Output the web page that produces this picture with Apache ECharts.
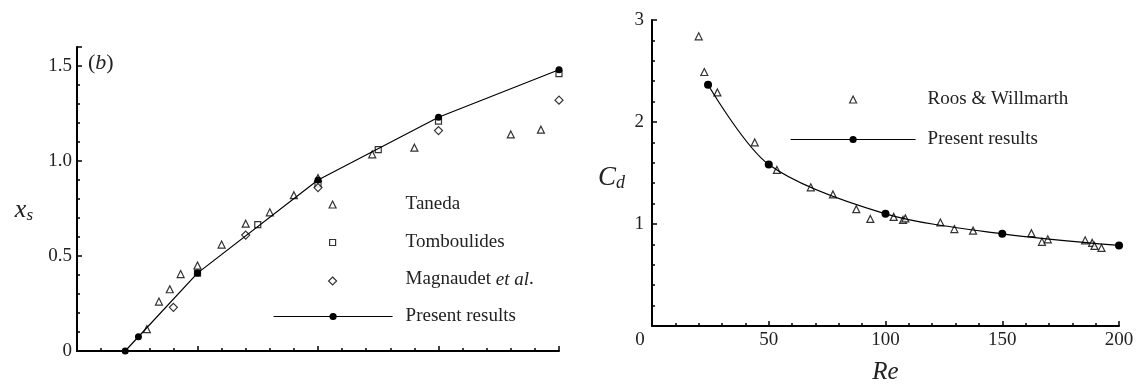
<!DOCTYPE html>
<html>
<head>
<meta charset="utf-8">
<script src="https://cdn.jsdelivr.net/npm/echarts@6/dist/echarts.min.js"></script>
<style>
html, body { margin: 0; padding: 0; background: #fff; }
#chart { width: 1145px; height: 390px; }
</style>
</head>
<body>
<div id="chart"></div>
<script>
/*
 * (b) x_s vs Re  /  C_d vs Re
 */

// left panel : separation length x_s
var tanedaData = [[29, 0.115], [34, 0.26], [38.5, 0.325], [43, 0.405], [50, 0.45], [60, 0.56],
	[70, 0.67], [80, 0.73], [90, 0.82], [100, 0.91], [122.5, 1.035], [140, 1.07], [180, 1.14], [192.5, 1.165]];
var tomboulidesData = [[50, 0.41], [75, 0.665], [100, 0.88], [125, 1.06], [150, 1.21], [200, 1.46]];
var magnaudetData = [[40, 0.23], [70, 0.61], [100, 0.86], [150, 1.16], [200, 1.32]];
var presentXsData = [[20, 0], [25.5, 0.075], [50, 0.41], [100, 0.9], [150, 1.23], [200, 1.48]];

// right panel : drag coefficient C_d
var roosData = [[20, 2.84], [22.4, 2.49], [28, 2.29], [44, 1.8], [53.5, 1.53], [68, 1.36], [77.5, 1.29],
	[87.5, 1.145], [93.5, 1.05], [103.5, 1.07], [107.5, 1.04], [108.5, 1.055], [123.5, 1.015], [129.5, 0.95],
	[137.5, 0.935], [162.5, 0.91], [167, 0.825], [169.5, 0.85], [185.5, 0.84], [188.5, 0.815], [189.5, 0.785], [192.5, 0.765]];
var presentCdData = [[24, 2.365], [50, 1.583], [100, 1.1], [150, 0.904], [200, 0.79]];

// tick labels
var xsTickLabels = [0, 0.5, 1.0, 1.5];
var reTickLabels = [0, 50, 100, 150, 200];
var cdTickLabels = [1, 2, 3];

var FONT = "Liberation Serif";
var INK = "#222";

var voChart = echarts.init(document.getElementById("chart"));

function axisBase(gridIndex, min, max, interval) {
	return {
		type: "value",
		gridIndex: gridIndex,
		min: min,
		max: max,
		interval: interval,
		axisLine: { show: true, lineStyle: { color: "#000", width: 2 } },
		axisTick: { show: true, inside: true, length: 5, lineStyle: { color: "#000", width: 1.5 } },
		minorTick: { show: true, splitNumber: 5, length: 3, lineStyle: { color: "#000", width: 1.5 } },
		splitLine: { show: false },
		minorSplitLine: { show: false },
		axisLabel: { color: INK, fontFamily: FONT, fontSize: 19 }
	};
}

function hollow(name, symbol, size, data, xi) {
	return {
		name: name,
		type: "scatter",
		xAxisIndex: xi,
		yAxisIndex: xi,
		symbol: symbol,
		symbolSize: size,
		itemStyle: { color: "#fff", borderColor: "#000", borderWidth: 1.2 },
		data: data
	};
}

// one legend entry, icon centred at cx, text starting at tx
function legendAt(name, cx, top, w, h, tx) {
	var left = cx - w / 2;
	return {
		data: [name],
		left: left,
		top: top,
		padding: 0,
		itemWidth: w,
		itemHeight: h,
		selectedMode: false,
		itemStyle: { borderWidth: 1.2 },
		lineStyle: { width: 1.2 },
		textStyle: { color: INK, fontFamily: FONT, fontSize: 19, padding: [0, 0, 3, tx - left - w - 5] }
	};
}

var xL = axisBase(0, 0, 200, 50);
xL.axisLabel.show = false;

var yL = axisBase(0, 0, 1.6, 0.5);
yL.axisLabel.showMaxLabel = false;
yL.axisLabel.margin = 5;
yL.axisLabel.formatter = function (v) {
	return xsTickLabels.indexOf(v) < 0 ? "" : (v === 0 ? "0" : v.toFixed(1));
};
yL.name = "{x|x}{s|s}";
yL.nameLocation = "middle";
yL.nameRotate = 0;
yL.nameGap = 44;
yL.nameTextStyle = {
	padding: [22, 0, 0, 0],
	rich: {
		x: { fontFamily: FONT, fontStyle: "italic", fontSize: 26, color: INK },
		s: { fontFamily: FONT, fontStyle: "italic", fontSize: 17, color: INK, padding: [12, 0, 0, 0] }
	}
};

var xR = axisBase(1, 0, 200, 50);
xR.axisLabel.margin = 5;
xR.axisLabel.formatter = function (v) {
	if (reTickLabels.indexOf(v) < 0) return "";
	return v === 0 ? "{z|0}" : String(v);
};
xR.axisLabel.rich = { z: { fontFamily: FONT, fontSize: 19, color: INK, padding: [0, 24, 0, 0] } };
xR.name = "Re";
xR.nameLocation = "middle";
xR.nameGap = 34;
xR.nameTextStyle = { fontFamily: FONT, fontStyle: "italic", fontSize: 25, color: INK };

var yR = axisBase(1, 0, 3, 1);
yR.axisLabel.showMinLabel = false;
yR.axisLabel.margin = 8;
yR.axisLabel.formatter = function (v) {
	return cdTickLabels.indexOf(v) < 0 ? "" : String(v);
};
yR.name = "{c|C}{d|d}";
yR.nameLocation = "middle";
yR.nameRotate = 0;
yR.nameGap = 27;
yR.nameTextStyle = {
	padding: [10, 0, 0, 0],
	rich: {
		c: { fontFamily: FONT, fontStyle: "italic", fontSize: 27, color: INK },
		d: { fontFamily: FONT, fontStyle: "italic", fontSize: 18, color: INK, padding: [10, 0, 0, 0] }
	}
};

var magLegend = legendAt("Magnaudet et al.", 332, 270, 8, 8, 405);
magLegend.formatter = "{n|Magnaudet }{i|et al}{n|.}";
magLegend.textStyle.rich = {
	n: { fontFamily: FONT, fontSize: 19, color: INK },
	i: { fontFamily: FONT, fontSize: 19, color: INK, fontStyle: "italic" }
};

var voOption = {
	animation: false,
	backgroundColor: "#fff",
	title: {
		text: "{n|(}{i|b}{n|)}",
		left: 88,
		top: 52,
		padding: 0,
		textStyle: {
			fontWeight: "normal",
			rich: {
				n: { fontFamily: FONT, fontSize: 22, fontWeight: "normal", color: INK },
				i: { fontFamily: FONT, fontSize: 22, fontWeight: "normal", color: INK, fontStyle: "italic" }
			}
		}
	},
	grid: [
		{ left: 77, top: 47, width: 482, height: 304 },
		{ left: 652, top: 20, width: 467, height: 312 }
	],
	xAxis: [xL, xR],
	yAxis: [yL, yR],
	legend: [
		legendAt("Taneda", 332, 195, 7, 7, 405),
		legendAt("Tomboulides", 332, 233, 6, 6, 405),
		magLegend,
		legendAt("Present results", 332.5, 307, 119, 9, 405),
		legendAt("Roos & Willmarth", 852.5, 90, 7, 7, 927),
		legendAt("Present results", 852.5, 130, 125, 9, 927)
	],
	series: [
		hollow("Taneda", "triangle", 7, tanedaData, 0),
		hollow("Tomboulides", "rect", 6, tomboulidesData, 0),
		hollow("Magnaudet et al.", "diamond", 8, magnaudetData, 0),
		{
			name: "Present results",
			type: "line",
			xAxisIndex: 0,
			yAxisIndex: 0,
			symbol: "circle",
			symbolSize: 7,
			itemStyle: { color: "#000" },
			lineStyle: { color: "#000", width: 1.2 },
			data: presentXsData
		},
		hollow("Roos & Willmarth", "triangle", 7, roosData, 1),
		{
			name: "Present results",
			type: "line",
			xAxisIndex: 1,
			yAxisIndex: 1,
			smooth: 0.3,
			symbol: "circle",
			symbolSize: 8,
			itemStyle: { color: "#000" },
			lineStyle: { color: "#000", width: 1.2 },
			data: presentCdData
		}
	]
};

voChart.setOption(voOption);

window.addEventListener("resize", function () {
	voChart.resize();
});
</script>
</body>
</html>
